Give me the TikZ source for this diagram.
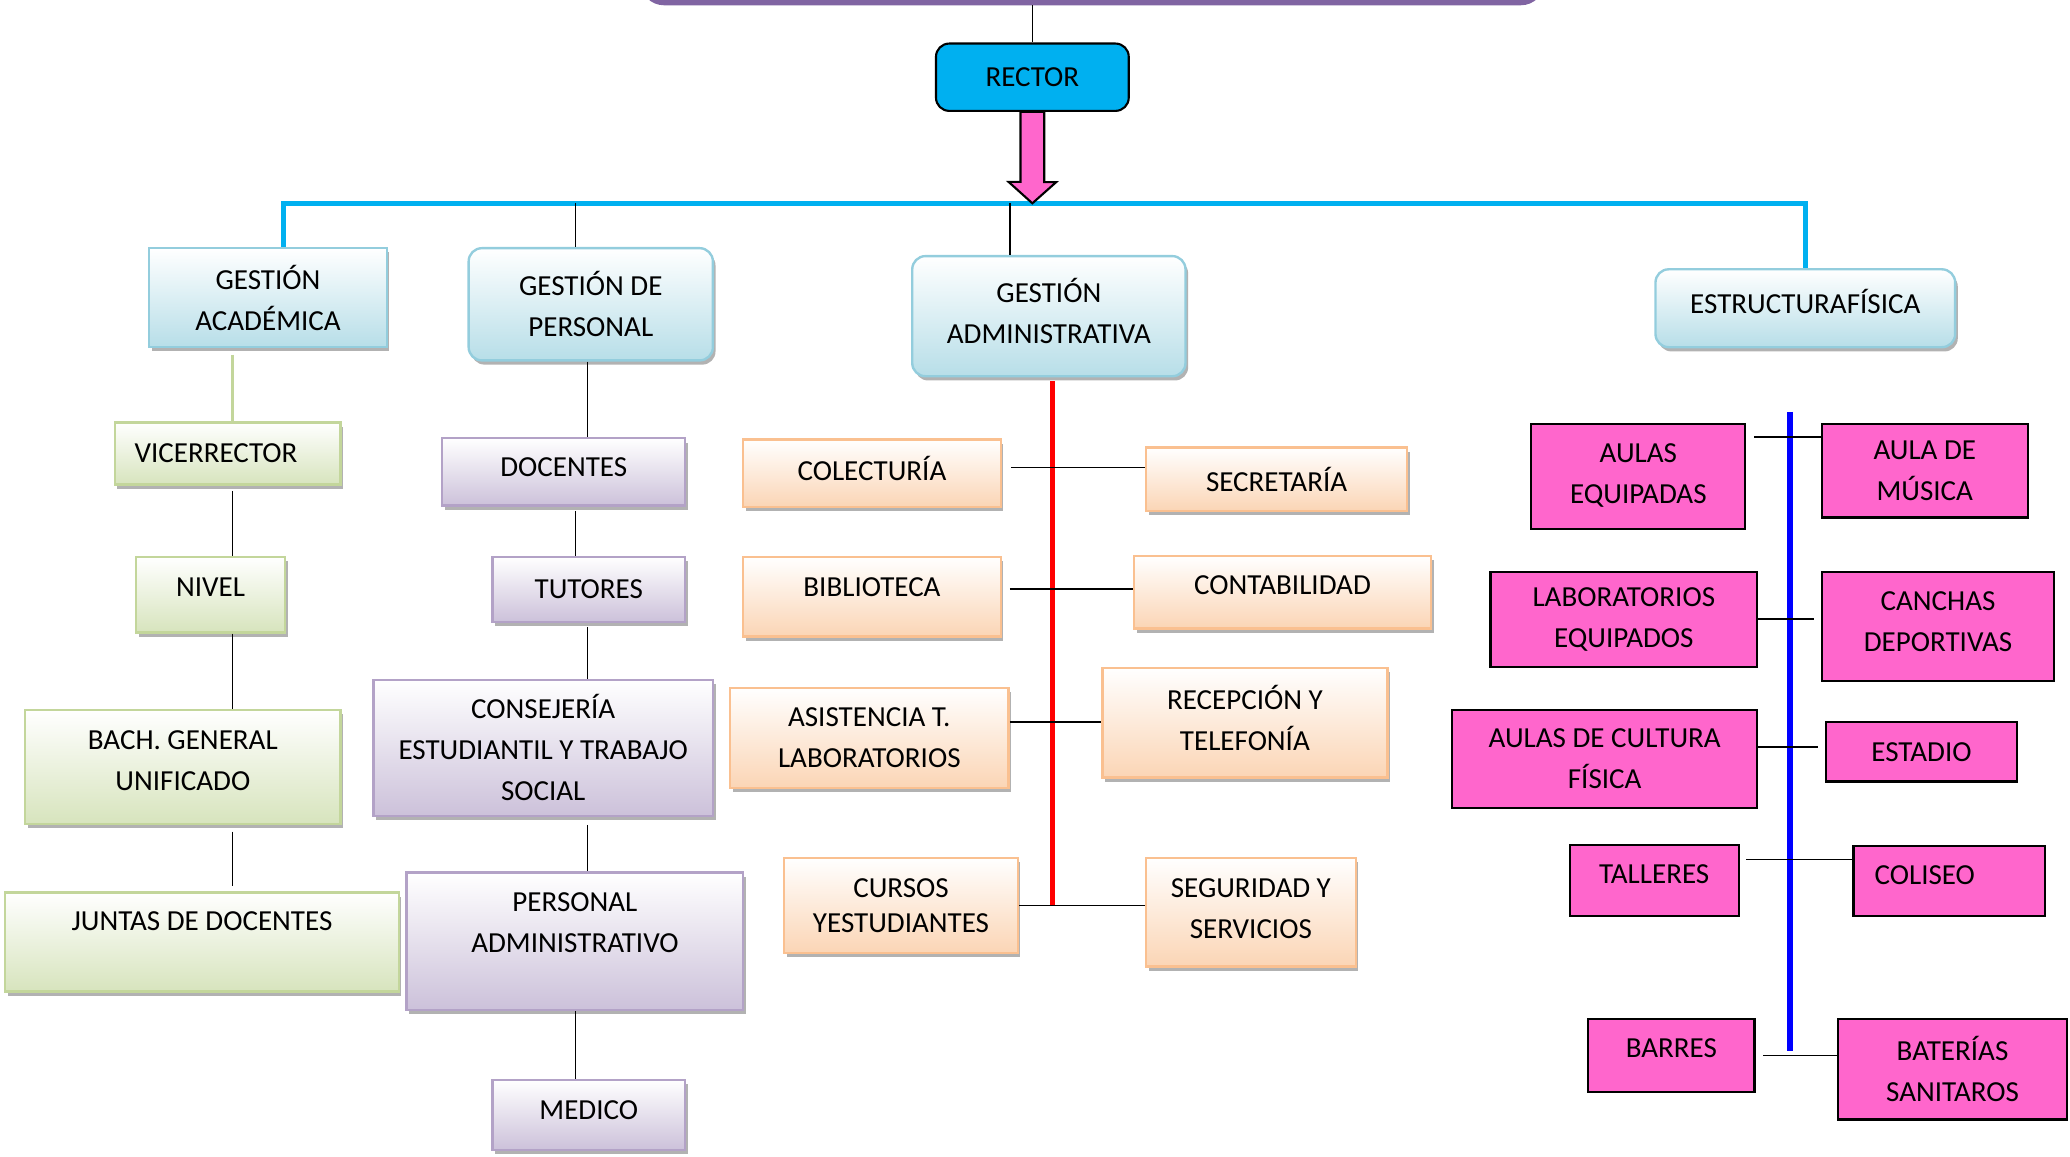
\documentclass[tikz,border=0pt]{standalone}
\usepackage{fontspec}
\setmainfont{Carlito}
\usetikzlibrary{shadows}
\definecolor{cielo}{HTML}{00B0F0}
\definecolor{rosa}{HTML}{FF66CC}
\definecolor{lila}{HTML}{8064A2}
\definecolor{azulB}{HTML}{B7DEE8}
\definecolor{azulL}{HTML}{93CDDD}
\definecolor{verdeB}{HTML}{D7E4BD}
\definecolor{verdeL}{HTML}{C3D69B}
\definecolor{moradoB}{HTML}{CCC1DA}
\definecolor{moradoL}{HTML}{B3A2C7}
\definecolor{naranjaB}{HTML}{FBD5B5}
\definecolor{naranjaL}{HTML}{FAC090}
\begin{document}
\begin{tikzpicture}[x=0.5pt, y=-0.5pt,
	font=\fontsize{11pt}{15.5pt}\selectfont,
	caja/.style={align=center, inner sep=2pt, line width=0.9pt,
		drop shadow={shadow xshift=1pt, shadow yshift=-1.6pt, opacity=0.3, fill=black}},
	azul/.style={caja, draw=azulL, top color=white, bottom color=azulB},
	verde/.style={caja, draw=verdeL, top color=white, bottom color=verdeB},
	morado/.style={caja, draw=moradoL, top color=white, bottom color=moradoB},
	naranja/.style={caja, draw=naranjaL, top color=white, bottom color=naranjaB},
	rosada/.style={align=center, inner sep=2pt, draw=black, line width=0.8pt, fill=rosa},
	link/.style={line width=0.6pt}]
	\useasboundingbox (0,0) rectangle (1568,876);
	\clip (0,0) rectangle (1568,876);

	\node [draw=lila, line width=2pt, rounded corners=8pt, minimum width=340.5pt, minimum height=22pt] (titulo) at (827.5,-20) {};
	\node [draw, fill=cielo, rounded corners=5pt, line width=0.8pt, minimum width=73pt, minimum height=25.5pt] (rector) at (782,58.5) {RECTOR};
	\coordinate (bus) at (782,154);

	\node [azul, minimum width=90pt, minimum height=37.5pt] (gacad) at (203,225.5) {GESTIÓN\\ACADÉMICA};
	\node [azul, rounded corners=5pt, minimum width=92.5pt, minimum height=42.5pt] (gpers) at (447.5,230.5) {GESTIÓN DE\\PERSONAL};
	\node [azul, rounded corners=5pt, minimum width=103.5pt, minimum height=45.5pt, text depth=4pt] (gadm) at (794.5,239.5) {GESTIÓN\\ADMINISTRATIVA};
	\node [azul, rounded corners=5pt, minimum width=113.5pt, minimum height=29.5pt, text depth=5.5pt] (efis) at (1367.5,233.5) {ESTRUCTURAFÍSICA};

	\node [verde, minimum width=85.5pt, minimum height=23.5pt, text width=70.5pt, align=left, inner xsep=7.5pt] (vice) at (172.5,343.5) {VICERRECTOR};
	\node [verde, minimum width=56.5pt, minimum height=28.5pt, text depth=5.5pt] (nivel) at (159.5,450.5) {NIVEL};
	\node [verde, minimum width=119.5pt, minimum height=43pt, text depth=5pt] (bach) at (138.5,581) {BACH. GENERAL\\UNIFICADO};
	\node [verde, minimum width=149pt, minimum height=37.5pt, text depth=15.5pt] (juntas) at (153,713.5) {JUNTAS DE DOCENTES};

	\node [morado, minimum width=92pt, minimum height=25.5pt, text depth=3.5pt] (doc) at (427,357.5) {DOCENTES};
	\node [morado, minimum width=73pt, minimum height=24.5pt] (tut) at (446,446.5) {TUTORES};
	\node [morado, minimum width=128.5pt, minimum height=51.5pt] (cons) at (411.5,566.5) {CONSEJERÍA\\ESTUDIANTIL Y TRABAJO\\SOCIAL};
	\node [morado, minimum width=127.5pt, minimum height=52pt, text depth=14.5pt] (padm) at (435.5,713) {PERSONAL\\ADMINISTRATIVO};
	\node [morado, minimum width=73pt, minimum height=26.5pt, text depth=3.5pt] (medico) at (446,844.5) {MEDICO};

	\node [naranja, minimum width=97.5pt, minimum height=25.5pt, text depth=3.5pt] (colec) at (660.5,358.5) {COLECTURÍA};
	\node [naranja, minimum width=99pt, minimum height=24pt] (secre) at (967,363) {SECRETARÍA};
	\node [naranja, minimum width=97.5pt, minimum height=30pt, text depth=7pt] (biblio) at (660.5,452) {BIBLIOTECA};
	\node [naranja, minimum width=112.5pt, minimum height=27.5pt, text depth=5.5pt] (conta) at (971.5,448.5) {CONTABILIDAD};
	\node [naranja, minimum width=105.5pt, minimum height=38pt] (asist) at (658.5,559) {ASISTENCIA T.\\LABORATORIOS};
	\node [naranja, minimum width=108pt, minimum height=41.5pt, text depth=4pt] (recep) at (943,547.5) {RECEPCIÓN Y\\TELEFONÍA};
	\node [naranja, minimum width=88.5pt, minimum height=36pt, execute at begin node=\setlength{\baselineskip}{13.5pt}] (cursos) at (682.5,686) {CURSOS\\YESTUDIANTES};
	\node [naranja, minimum width=79.5pt, minimum height=41pt, text depth=2.5pt] (segur) at (947.5,691) {SEGURIDAD Y\\SERVICIOS};

	\node [rosada, minimum width=81pt, minimum height=40pt, text depth=2.5pt] (aulas) at (1241,361) {AULAS\\EQUIPADAS};
	\node [rosada, minimum width=78pt, minimum height=35.5pt] (musica) at (1458,356.5) {AULA DE\\MÚSICA};
	\node [rosada, minimum width=101pt, minimum height=36pt] (labs) at (1230,469) {LABORATORIOS\\EQUIPADOS};
	\node [rosada, minimum width=88pt, minimum height=41.5pt, text depth=4pt] (canchas) at (1468,474.5) {CANCHAS\\DEPORTIVAS};
	\node [rosada, minimum width=115.5pt, minimum height=37pt] (cultura) at (1215.5,575) {AULAS DE CULTURA\\FÍSICA};
	\node [rosada, minimum width=72.5pt, minimum height=22.5pt] (estadio) at (1455.5,569.5) {ESTADIO};
	\node [rosada, minimum width=64pt, minimum height=27pt, text depth=5pt] (talleres) at (1253,667) {TALLERES};
	\node [rosada, minimum width=72.5pt, minimum height=26.5pt, text depth=4.5pt, text width=56.5pt, align=left, inner xsep=8pt] (coliseo) at (1476.5,667.5) {COLISEO};
	\node [rosada, minimum width=63pt, minimum height=27.5pt, text depth=5.5pt] (barres) at (1266,799.5) {BARRES};
	\node [rosada, minimum width=87pt, minimum height=38pt] (baterias) at (1479,810) {BATERÍAS\\SANITAROS};

	\draw [link] (titulo.south -| rector.north) -- (rector.north);
	\draw [cielo, line width=2pt] ([xshift=6pt]gacad.north) |- (bus) -| (efis.north);
	\draw [fill=rosa, line width=0.8pt] ([xshift=-4.5pt]rector.south) -- ++(0,-26.5pt) -- ++(-4.5pt,0) -- (rector.south |- bus) -- ++(9pt,8pt) -- ++(-4.5pt,0) -- ([xshift=4.5pt]rector.south) -- cycle;
	\draw [link] ([xshift=-5.75pt]gpers.north) -- ([xshift=-5.75pt]gpers.north |- bus);
	\draw [link] ([xshift=-14.75pt]gadm.north) -- ([xshift=-14.75pt]gadm.north |- bus);

	\coordinate (ejeA) at (176,0);
	\coordinate (ejeP) at (445,0);
	\coordinate (ejeQ) at (436,0);
	\draw [verdeL, line width=0.9pt, shorten <=2.5pt] (gacad.south -| ejeA) -- (vice.north -| ejeA);
	\draw [link, shorten <=2pt] (vice.south -| ejeA) -- (nivel.north -| ejeA);
	\draw [link] (nivel.south -| ejeA) -- (bach.north -| ejeA);
	\draw [link, shorten <=2.5pt, shorten >=2pt] (bach.south -| ejeA) -- (juntas.north -| ejeA);

	\draw [link] (gpers.south -| ejeP) -- (doc.north -| ejeP);
	\draw [link, shorten <=1.5pt] (doc.south -| ejeQ) -- (tut.north -| ejeQ);
	\draw [link, shorten <=1.5pt] (tut.south -| ejeP) -- (cons.north -| ejeP);
	\draw [link, shorten <=3pt] (cons.south -| ejeP) -- (padm.north -| ejeP);
	\draw [link] (padm.south -| ejeQ) -- (medico.north -| ejeQ);

	\draw [red, line width=2pt, shorten <=1.5pt] ([xshift=1.25pt]gadm.south) -- ([xshift=1.25pt]gadm.south |- cursos.east);
	\draw [link] ([shift={(3.5pt,2.25pt)}]colec.east) -- ([yshift=2.25pt]colec.east -| secre.west);
	\draw [link] ([shift={(3pt,3pt)}]biblio.east) -- ([yshift=3pt]biblio.east -| conta.west);
	\draw [link] ([yshift=6pt]asist.east) -- ([yshift=6pt]asist.east -| recep.west);
	\draw [link] (cursos.east) -- (cursos.east -| segur.west);

	\coordinate (ejeE1) at (1356,312);
	\coordinate (ejeE2) at (1356,796);
	\draw [blue, line width=2.5pt] (ejeE1) -- (ejeE2);
	\draw [link] ([shift={(3pt,15pt)}]aulas.east) -- ([yshift=15pt]aulas.east -| musica.west);
	\draw [link] (labs.east) -- ([xshift=-2.5pt]labs.east -| canchas.west);
	\draw [link] ([yshift=4.5pt]cultura.east) -- ([shift={(-2.5pt,4.5pt)}]cultura.east -| estadio.west);
	\draw [link] ([shift={(2.5pt,8pt)}]talleres.east) -- ([yshift=8pt]talleres.east -| coliseo.west);
	\draw [link] ([xshift=3pt]barres.east) -- (barres.east -| baterias.west);
\end{tikzpicture}
\end{document}
